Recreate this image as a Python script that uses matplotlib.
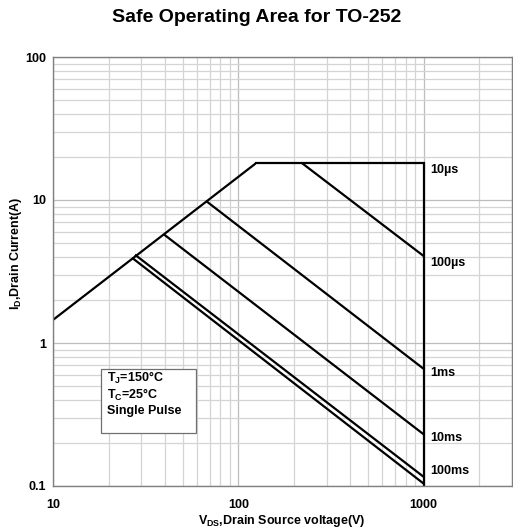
import matplotlib
matplotlib.use("Agg")
import matplotlib.pyplot as plt
from matplotlib.patches import Rectangle
from matplotlib.ticker import LogLocator, FixedLocator, FixedFormatter, NullFormatter

plt.rcParams['font.family'] = ['Liberation Sans', 'DejaVu Sans']
plt.rcParams['mathtext.fontset'] = 'custom'
plt.rcParams['mathtext.rm'] = 'Liberation Sans'
plt.rcParams['mathtext.bf'] = 'Liberation Sans:bold'
plt.rcParams['mathtext.it'] = 'Liberation Sans:italic'

# ---- data ----
rds_v = [10, 124]
rds_i = [1.45, 18]
limit_v = [124, 1000, 1000]
limit_i = [18, 18, 0.1]
pulse_names = ["100µs", "1ms", "10ms", "100ms", "DC"]
pulse_v = [[222, 1000], [68, 1000], [40, 1000], [28, 1000], [27, 1000]]
pulse_i = [[18, 4.06], [9.7, 0.66], [5.7, 0.23], [4.1, 0.116], [3.9, 0.104]]
label_texts = ["10µs", "100µs", "1ms", "10ms", "100ms"]
label_i = [16.2, 3.64, 0.62, 0.217, 0.127]
label_v = 1090
box_lines = ["T$_\\mathbf{J}$=150°C", "T$_\\mathbf{C}$=25°C", "Single Pulse"]
x_ticks = [10, 100, 1000]
x_ticklabels = ["10", "100", "1000"]
y_ticks = [0.1, 1, 10, 100]
y_ticklabels = ["0.1", "1", "10", "100"]

fig = plt.figure(figsize=(5.13, 5.31), dpi=100)
ax = fig.add_axes([53/513, 1-486/531, (512-53)/513, (486-57)/531])
ax.set_xscale('log')
ax.set_yscale('log')
ax.set_xlim(10, 3000)
ax.set_ylim(0.1, 100)

ax.xaxis.set_major_locator(FixedLocator(x_ticks))
ax.xaxis.set_major_formatter(FixedFormatter(x_ticklabels))
ax.yaxis.set_major_locator(FixedLocator(y_ticks))
ax.yaxis.set_major_formatter(FixedFormatter(y_ticklabels))
ax.xaxis.set_minor_locator(LogLocator(base=10, subs=range(2, 10)))
ax.yaxis.set_minor_locator(LogLocator(base=10, subs=range(2, 10)))
ax.xaxis.set_minor_formatter(NullFormatter())
ax.yaxis.set_minor_formatter(NullFormatter())
ax.tick_params(which='both', length=0)
ax.tick_params(axis='x', pad=9)
ax.tick_params(axis='y', pad=5)
for lab in ax.get_xticklabels() + ax.get_yticklabels():
    lab.set_fontweight('bold')
    lab.set_fontsize(9)

ax.grid(True, which='major', color='#bdbdbd', lw=0.9)
ax.grid(True, which='minor', color='#d4d4d4', lw=0.9)
ax.set_axisbelow(True)
for s in ax.spines.values():
    s.set_color('#808080')
    s.set_linewidth(1.0)

lw = 1.6
ax.plot(rds_v, rds_i, color='black', lw=lw, solid_capstyle='butt')
ax.plot(limit_v, limit_i, color='black', lw=lw, solid_joinstyle='miter')
for v, i in zip(pulse_v, pulse_i):
    ax.plot(v, i, color='black', lw=lw)

for t, y in zip(label_texts, label_i):
    ax.text(label_v, y, t, ha='left', va='center', fontsize=9, fontweight='bold')

# annotation box
bx0, bx1 = (101-53)/459, (196-53)/459
by0, by1 = (486-433)/429, (486-369)/429
ax.add_patch(Rectangle((bx0, by0), bx1-bx0, by1-by0, transform=ax.transAxes,
                       facecolor='white', edgecolor='#707070', lw=0.9, zorder=3))
for k, t in enumerate(box_lines):
    ypix = 378 + 16.5*k
    ax.text((107-53)/459, (486-ypix)/429, t, transform=ax.transAxes, ha='left', va='center',
            fontsize=9, fontweight='bold', zorder=4)

fig.text(282/513, 1-521/531, "V$_\\mathbf{DS}$,Drain Source voltage(V)", ha='center', va='center',
         fontsize=9, fontweight='bold')
fig.text(16/513, 1-253/531, "I$_\\mathbf{D}$,Drain Current(A)", ha='center', va='center',
         rotation=90, fontsize=9, fontweight='bold')

fig.text(0.5, 1-18/531, "Safe Operating Area for TO-252", ha='center', va='center',
         fontsize=14, fontweight='bold')

fig.savefig("out.png", dpi=100)
